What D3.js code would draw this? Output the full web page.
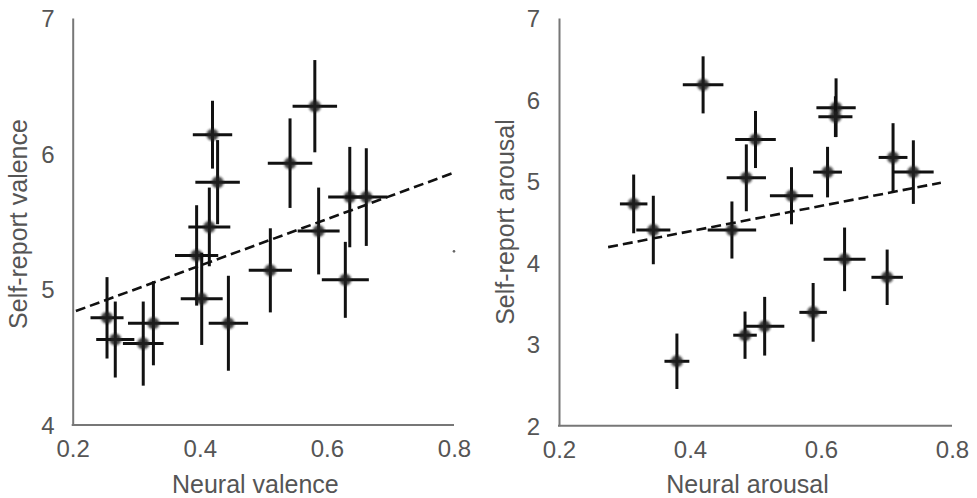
<!DOCTYPE html>
<html>
<head>
<meta charset="utf-8">
<script src="https://cdn.jsdelivr.net/npm/d3@7"></script>
<style>
  body { margin: 0; background: #fff; }
  svg { display: block; font-family: "Liberation Sans", Arial, sans-serif; }
  .axis path { stroke: #777; stroke-width: 2; }
  .axis text { fill: #555; font-size: 24px; }
  .title { fill: #555; font-size: 25px; }
</style>
</head>
<body>
<div id="vis"></div>
<script>
'use strict';

// Left panel: neural vs self-report valence
const valX    = [0.254, 0.267, 0.311, 0.327, 0.395, 0.403, 0.415, 0.420, 0.428, 0.445, 0.511, 0.542, 0.581, 0.587, 0.629, 0.636, 0.662];
const valY    = [4.79, 4.63, 4.60, 4.75, 5.25, 4.93, 5.46, 6.14, 5.79, 4.75, 5.14, 5.93, 6.35, 5.43, 5.07, 5.68, 5.68];
const valXErr = [0.026, 0.030, 0.032, 0.040, 0.034, 0.033, 0.033, 0.031, 0.035, 0.031, 0.034, 0.035, 0.035, 0.033, 0.037, 0.034, 0.033];
const valYErr = [0.30, 0.28, 0.31, 0.31, 0.37, 0.34, 0.29, 0.25, 0.31, 0.35, 0.31, 0.33, 0.34, 0.32, 0.28, 0.37, 0.36];
const valFitX = [0.205, 0.8];
const valFitY = [4.84, 5.86];
const valStray = [0.8, 5.28];

// Right panel: neural vs self-report arousal
const aroX    = [0.314, 0.344, 0.380, 0.420, 0.464, 0.484, 0.486, 0.500, 0.514, 0.555, 0.588, 0.610, 0.623, 0.622, 0.636, 0.701, 0.710, 0.741];
const aroY    = [4.72, 4.40, 2.79, 6.18, 4.40, 3.11, 5.04, 5.51, 3.22, 4.82, 3.39, 5.11, 5.90, 5.79, 4.04, 3.82, 5.29, 5.11];
const aroXErr = [0.021, 0.026, 0.019, 0.031, 0.037, 0.018, 0.030, 0.031, 0.030, 0.033, 0.021, 0.022, 0.030, 0.026, 0.032, 0.024, 0.022, 0.031];
const aroYErr = [0.36, 0.42, 0.34, 0.35, 0.35, 0.29, 0.41, 0.35, 0.36, 0.35, 0.36, 0.31, 0.36, 0.25, 0.39, 0.34, 0.42, 0.39];
const aroFitX = [0.275, 0.783];
const aroFitY = [4.19, 4.98];

const xTicks = [0.2, 0.4, 0.6, 0.8];

const width = 977;
const height = 498;

const svg = d3.select('#vis').append('svg')
  .attr('width', width)
  .attr('height', height);

// soft edge on the markers, like the scanned figure
svg.append('defs').append('filter')
  .attr('id', 'soft')
  .append('feGaussianBlur')
  .attr('stdDeviation', 1.3);

function panel(opts) {
  const x = d3.scaleLinear().domain([0.2, 0.8]).range(opts.xRange);
  const y = d3.scaleLinear().domain(opts.yDomain).range(opts.yRange);
  const g = svg.append('g');

  g.append('g')
    .attr('class', 'axis')
    .attr('transform', `translate(0,${opts.yRange[0]})`)
    .call(d3.axisBottom(x).tickValues(xTicks).tickFormat(d3.format('.1f')).tickSize(0).tickPadding(15))
    .call(s => s.select('.domain').attr('d', `M${opts.xRange[0] - 1},0H${opts.xRange[1]}`))
    .call(s => s.selectAll('text').attr('font-family', null).attr('font-size', null));

  g.append('g')
    .attr('class', 'axis')
    .attr('transform', `translate(${opts.xRange[0]},0)`)
    .call(d3.axisLeft(y).tickValues(opts.yTicks).tickFormat(d3.format('d')).tickSize(0).tickPadding(opts.yPad))
    .call(s => s.selectAll('text').attr('font-family', null).attr('font-size', null).attr('dy', '0.36em'));

  const pts = opts.xs.map((d, i) => ({ x: d, y: opts.ys[i], ex: opts.exs[i], ey: opts.eys[i] }));

  // regression line
  g.append('line')
    .attr('x1', x(opts.fitX[0])).attr('y1', y(opts.fitY[0]))
    .attr('x2', x(opts.fitX[1])).attr('y2', y(opts.fitY[1]))
    .attr('stroke', '#111')
    .attr('stroke-width', 2.6)
    .attr('stroke-dasharray', '10,5');

  const pt = g.selectAll('g.pt').data(pts).enter().append('g').attr('class', 'pt');

  pt.append('line')
    .attr('x1', d => x(d.x - d.ex)).attr('x2', d => x(d.x + d.ex))
    .attr('y1', d => y(d.y)).attr('y2', d => y(d.y))
    .attr('stroke', '#111').attr('stroke-width', 3);

  pt.append('line')
    .attr('x1', d => x(d.x)).attr('x2', d => x(d.x))
    .attr('y1', d => y(d.y - d.ey)).attr('y2', d => y(d.y + d.ey))
    .attr('stroke', '#111').attr('stroke-width', 3);

  pt.append('circle')
    .attr('cx', d => x(d.x)).attr('cy', d => y(d.y))
    .attr('r', 6)
    .attr('fill', '#222')
    .attr('fill-opacity', 0.85)
    .attr('filter', 'url(#soft)');

  if (opts.stray) {
    g.append('circle')
      .attr('cx', x(opts.stray[0])).attr('cy', y(opts.stray[1]))
      .attr('r', 1.3).attr('fill', '#666');
  }

  g.append('text')
    .attr('class', 'title')
    .attr('text-anchor', 'middle')
    .attr('x', (opts.xRange[0] + opts.xRange[1]) / 2 - 8)
    .attr('y', 493)
    .text(opts.xTitle);

  g.append('text')
    .attr('class', 'title')
    .attr('text-anchor', 'middle')
    .attr('transform', `translate(${opts.yTitleX},${opts.yTitleY}) rotate(-90)`)
    .attr('dy', '0.36em')
    .text(opts.yTitle);
}

panel({
  xRange: [72.7, 454], yRange: [425, 18], yDomain: [4, 7], yTicks: [4, 5, 6, 7], yPad: 18,
  xs: valX, ys: valY, exs: valXErr, eys: valYErr, fitX: valFitX, fitY: valFitY, stray: valStray,
  xTitle: 'Neural valence', yTitle: 'Self-report valence', yTitleX: 18, yTitleY: 224
});

panel({
  xRange: [559, 952], yRange: [425.7, 18], yDomain: [2, 7], yTicks: [2, 3, 4, 5, 6, 7], yPad: 19,
  xs: aroX, ys: aroY, exs: aroXErr, eys: aroYErr, fitX: aroFitX, fitY: aroFitY,
  xTitle: 'Neural arousal', yTitle: 'Self-report arousal', yTitleX: 505, yTitleY: 222
});
</script>
</body>
</html>
